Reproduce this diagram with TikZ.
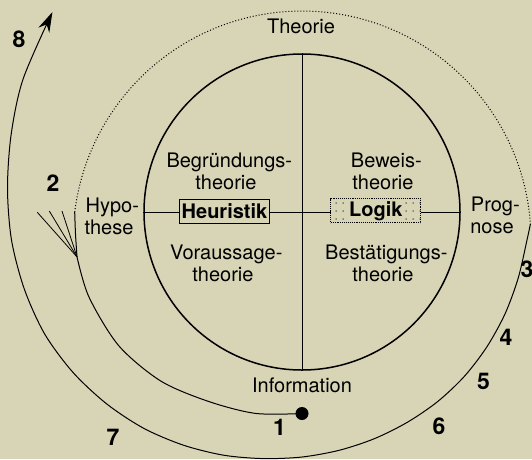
\documentclass[tikz,border=0pt]{standalone}
\usepackage{fontspec}
\setmainfont{TeX Gyre Heros}
\usetikzlibrary{arrows.meta,patterns.meta}
\definecolor{bg}{RGB}{216,212,182}
\tikzdeclarepattern{
  name=sparsedots,
  type=uncolored,
  bounding box={(-1pt,-1pt) and (1pt,1pt)},
  tile size={(7pt,8pt)},
  code={\pgfpathcircle{\pgfpointorigin}{0.75pt}\pgfusepath{fill}}
}
\begin{document}
\begin{tikzpicture}[x=1pt,y=-1pt,
  lbl/.style={font=\fontsize{20}{22}\selectfont, inner sep=0pt, align=center},
  num/.style={font=\fontsize{23}{23}\selectfont\bfseries, inner sep=0pt},
  boxbase/.style={font=\fontsize{20}{22}\selectfont\bfseries, inner sep=0pt,
    minimum width=90pt, minimum height=24pt, line width=0.9pt, draw},
  ringstyle/.style={circle, draw, line width=1.5pt, minimum size=316pt, inner sep=0pt},
  curve/.style={line width=1pt},
  cross/.style={line width=1pt}]
\fill[bg] (0,0) rectangle (532,459);
\useasboundingbox (0,0) rectangle (532,459);

% inner circle with cross
\node[ringstyle] (ring) at (302,212) {};
\draw[cross] (ring.north) -- (ring.south);
\draw[cross] (ring.west) -- (ring.east);

% boxes
\node[boxbase, fill=bg] (heur) at (224.5,211.3) {Heuristik};
\node[boxbase, densely dotted, preaction={fill=bg}, pattern=sparsedots, pattern color=black!80] (logik) at (375.8,210.8) {};
\node[font=\fontsize{20}{22}\selectfont\bfseries, inner sep=1pt, fill=bg] (logiktxt) at (logik.center) {Logik};

% quadrant labels
\node[lbl] (begr) at (226,171) {Begründungs\rlap{-}\\theorie};
\node[lbl] (bew) at (383,171) {Beweis\rlap{-}\\theorie};
\node[lbl] (vor) at (223,263) {Voraussage\rlap{-}\\theorie};
\node[lbl] (best) at (383,263) {Bestätigungs\rlap{-}\\theorie};

% outer labels
\node[lbl] (theo) at (301,26) {Theorie};
\node[lbl] (hyp) at (109,216) {Hypo\rlap{-}\\these};
\node[lbl] (prog) at (492,215.5) {Prog\rlap{-}\\nose};
\node[lbl] (info) at (302,385) {Information};

% start dot
\node[circle, fill=black, inner sep=0pt, minimum size=13pt] (start) at (302,413.5) {};

% spiral
\coordinate (J) at (77,256.9);
\coordinate (D1) at (74.7,212);
\coordinate (D2) at (530.4,224);
\coordinate (tip) at (52.4,12.1);
\draw[curve] plot[smooth] coordinates {(start.center) (255.5,413.4) (208.75,401.5)
  (160.9,381.1) (118.8,345.75) (89,297.1) (J)};
\draw[curve] plot[smooth] coordinates {(J) (75.5,234) (D1)};
\draw[curve, dotted] plot[domain=173:4, samples=90] ({302+229*cos(\x)},{240-229*sin(\x)});
\draw[curve, -{Stealth[length=20pt,width=12pt]}] plot[smooth] coordinates {(D2) (527,240)
  (518.2,278.1) (505,313.9) (486.9,346.8) (464.4,376.3) (437.6,401.6) (407.3,422.3)
  (374.3,438.7) (339.1,450.3) (302,457) (263.5,458.6) (223.7,455.2) (183.5,445.2)
  (143.9,428.4) (106.7,403.9) (72.9,372.3) (44.5,333.7) (24.3,289) (11.5,240)
  (7.5,188.1) (11.2,134.1) (23.1,79) (tip)};

% fan at the hypothesis
\coordinate (f1) at (37.3,212.3);
\coordinate (f2) at (49.3,211);
\coordinate (f3) at (62,211);
\draw[line width=0.8pt] (f1) -- (J);
\draw[line width=0.8pt] (f2) -- (J);
\draw[line width=0.8pt] (f3) -- (J);

% step numbers
\node[num] (n1) at (279.5,427) {1};
\node[num] (n2) at (53,183) {2};
\node[num] (n3) at (527,269) {3};
\node[num] (n4) at (506,337.5) {4};
\node[num] (n5) at (483.5,381.5) {5};
\node[num] (n6) at (439,426.5) {6};
\node[num] (n7) at (113,437.5) {7};
\node[num] (n8) at (19,39.5) {8};
\end{tikzpicture}
\end{document}
